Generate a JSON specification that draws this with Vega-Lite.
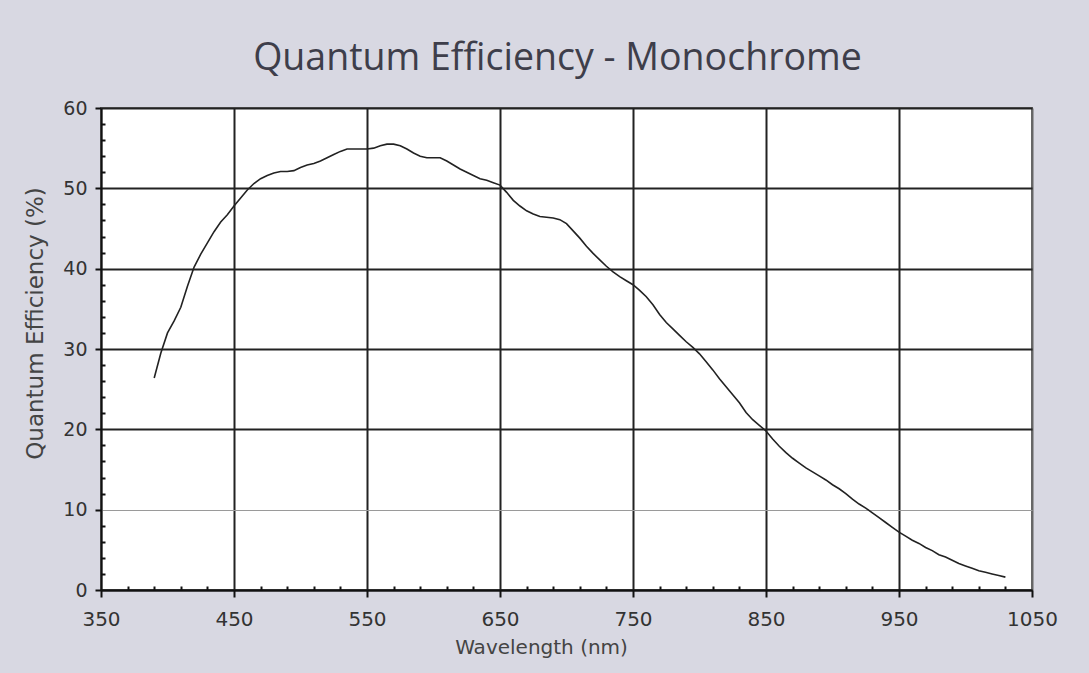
{
  "$schema": "https://vega.github.io/schema/vega-lite/v6.json",
  "width": 931,
  "height": 482,
  "autosize": {"type": "none"},
  "padding": {"left": 101, "top": 108, "right": 57, "bottom": 83},
  "background": "#d8d8e2",
  "title": {
    "text": "Quantum Efficiency - Monochrome",
    "anchor": "middle",
    "dx": -9,
    "offset": -8,
    "baseline": "alphabetic",
    "font": "Open Sans",
    "fontSize": 37.5,
    "fontWeight": "normal",
    "color": "#3e3e4a"
  },
  "data": {
    "values": [
      {"wl": 390, "qe": 26.4}, {"wl": 395, "qe": 29.5}, {"wl": 400, "qe": 32.0}, {"wl": 405, "qe": 33.5},
      {"wl": 410, "qe": 35.2}, {"wl": 415, "qe": 37.8}, {"wl": 420, "qe": 40.2}, {"wl": 425, "qe": 41.8},
      {"wl": 430, "qe": 43.2}, {"wl": 435, "qe": 44.6}, {"wl": 440, "qe": 45.8}, {"wl": 445, "qe": 46.7},
      {"wl": 450, "qe": 47.8}, {"wl": 455, "qe": 48.8}, {"wl": 460, "qe": 49.8}, {"wl": 465, "qe": 50.6},
      {"wl": 470, "qe": 51.2}, {"wl": 475, "qe": 51.6}, {"wl": 480, "qe": 51.9}, {"wl": 485, "qe": 52.1},
      {"wl": 490, "qe": 52.1}, {"wl": 495, "qe": 52.2}, {"wl": 500, "qe": 52.6}, {"wl": 505, "qe": 52.9},
      {"wl": 510, "qe": 53.1}, {"wl": 515, "qe": 53.4}, {"wl": 520, "qe": 53.8}, {"wl": 525, "qe": 54.2},
      {"wl": 530, "qe": 54.6}, {"wl": 535, "qe": 54.9}, {"wl": 540, "qe": 54.9}, {"wl": 545, "qe": 54.9},
      {"wl": 550, "qe": 54.9}, {"wl": 555, "qe": 55.0}, {"wl": 560, "qe": 55.3}, {"wl": 565, "qe": 55.5},
      {"wl": 570, "qe": 55.5}, {"wl": 575, "qe": 55.3}, {"wl": 580, "qe": 54.9}, {"wl": 585, "qe": 54.4},
      {"wl": 590, "qe": 54.0}, {"wl": 595, "qe": 53.8}, {"wl": 600, "qe": 53.8}, {"wl": 605, "qe": 53.8},
      {"wl": 610, "qe": 53.4}, {"wl": 615, "qe": 52.9}, {"wl": 620, "qe": 52.4}, {"wl": 625, "qe": 52.0},
      {"wl": 630, "qe": 51.6}, {"wl": 635, "qe": 51.2}, {"wl": 640, "qe": 51.0}, {"wl": 645, "qe": 50.7},
      {"wl": 650, "qe": 50.4}, {"wl": 655, "qe": 49.5}, {"wl": 660, "qe": 48.5}, {"wl": 665, "qe": 47.8},
      {"wl": 670, "qe": 47.2}, {"wl": 675, "qe": 46.8}, {"wl": 680, "qe": 46.5}, {"wl": 685, "qe": 46.4},
      {"wl": 690, "qe": 46.3}, {"wl": 695, "qe": 46.1}, {"wl": 700, "qe": 45.6}, {"wl": 705, "qe": 44.7},
      {"wl": 710, "qe": 43.8}, {"wl": 715, "qe": 42.8}, {"wl": 720, "qe": 41.9}, {"wl": 725, "qe": 41.1},
      {"wl": 730, "qe": 40.3}, {"wl": 735, "qe": 39.6}, {"wl": 740, "qe": 39.0}, {"wl": 745, "qe": 38.5},
      {"wl": 750, "qe": 38.0}, {"wl": 755, "qe": 37.3}, {"wl": 760, "qe": 36.5}, {"wl": 765, "qe": 35.5},
      {"wl": 770, "qe": 34.3}, {"wl": 775, "qe": 33.3}, {"wl": 780, "qe": 32.5}, {"wl": 785, "qe": 31.7},
      {"wl": 790, "qe": 30.9}, {"wl": 795, "qe": 30.2}, {"wl": 800, "qe": 29.4}, {"wl": 805, "qe": 28.4},
      {"wl": 810, "qe": 27.4}, {"wl": 815, "qe": 26.3}, {"wl": 820, "qe": 25.3}, {"wl": 825, "qe": 24.3},
      {"wl": 830, "qe": 23.3}, {"wl": 835, "qe": 22.1}, {"wl": 840, "qe": 21.2}, {"wl": 845, "qe": 20.5},
      {"wl": 850, "qe": 19.8}, {"wl": 855, "qe": 18.8}, {"wl": 860, "qe": 17.9}, {"wl": 865, "qe": 17.1},
      {"wl": 870, "qe": 16.4}, {"wl": 875, "qe": 15.8}, {"wl": 880, "qe": 15.2}, {"wl": 885, "qe": 14.7},
      {"wl": 890, "qe": 14.2}, {"wl": 895, "qe": 13.7}, {"wl": 900, "qe": 13.1}, {"wl": 905, "qe": 12.6},
      {"wl": 910, "qe": 12.0}, {"wl": 915, "qe": 11.3}, {"wl": 920, "qe": 10.7}, {"wl": 925, "qe": 10.2},
      {"wl": 930, "qe": 9.6}, {"wl": 935, "qe": 9.0}, {"wl": 940, "qe": 8.4}, {"wl": 945, "qe": 7.8},
      {"wl": 950, "qe": 7.2}, {"wl": 955, "qe": 6.7}, {"wl": 960, "qe": 6.2}, {"wl": 965, "qe": 5.8},
      {"wl": 970, "qe": 5.3}, {"wl": 975, "qe": 4.9}, {"wl": 980, "qe": 4.4}, {"wl": 985, "qe": 4.1},
      {"wl": 990, "qe": 3.7}, {"wl": 995, "qe": 3.3}, {"wl": 1000, "qe": 3.0}, {"wl": 1005, "qe": 2.7},
      {"wl": 1010, "qe": 2.4}, {"wl": 1015, "qe": 2.2}, {"wl": 1020, "qe": 2.0}, {"wl": 1025, "qe": 1.8},
      {"wl": 1030, "qe": 1.6}
    ]
  },
  "layer": [
    {
      "mark": {"type": "line", "color": "#222222", "strokeWidth": 1.6},
      "encoding": {
        "x": {
          "field": "wl", "type": "quantitative",
          "scale": {"domain": [350, 1050], "nice": false, "zero": false},
          "axis": {
            "orient": "bottom",
            "values": [350, 450, 550, 650, 750, 850, 950, 1050],
            "format": "d",
            "labelFlush": false,
            "title": "Wavelength (nm)",
            "titleX": 440, "titleY": 57,
            "titleBaseline": "middle", "titleAlign": "center",
            "titleFont": "DejaVu Sans", "titleFontSize": 20, "titleFontWeight": "normal", "titleColor": "#444444",
            "labelFont": "DejaVu Sans", "labelFontSize": 20, "labelColor": "#333333",
            "labelPadding": 12,
            "domainColor": "#111111", "domainWidth": 2,
            "tickColor": "#111111", "tickWidth": 2, "tickSize": 7,
            "grid": true,
            "gridColor": {"condition": {"test": "datum.value == 350 || datum.value == 1050", "value": "#666666"}, "value": "#222222"},
            "gridWidth": 2,
            "zindex": 0
          }
        },
        "y": {
          "field": "qe", "type": "quantitative",
          "scale": {"domain": [0, 60], "nice": false},
          "axis": {
            "orient": "left",
            "values": [0, 10, 20, 30, 40, 50, 60],
            "title": "Quantum Efficiency (%)",
            "titleX": -66, "titleY": 215,
            "titleAngle": -90,
            "titleBaseline": "middle", "titleAlign": "center",
            "titleFont": "DejaVu Sans", "titleFontSize": 23, "titleFontWeight": "normal", "titleColor": "#444444",
            "labelFont": "DejaVu Sans", "labelFontSize": 19, "labelColor": "#333333",
            "labelPadding": 8,
            "domainColor": "#111111", "domainWidth": 2,
            "tickColor": "#111111", "tickWidth": 2, "tickSize": 6,
            "grid": true,
            "gridColor": {"condition": {"test": "datum.value == 10", "value": "#9a9a9a"}, "value": "#222222"},
            "gridWidth": {"condition": {"test": "datum.value == 10", "value": 1}, "value": 2},
            "zindex": 0
          }
        }
      }
    },
    {
      "mark": {"type": "point", "opacity": 0},
      "encoding": {
        "x": {
          "field": "wl", "type": "quantitative",
          "axis": {
            "orient": "bottom",
            "values": [370, 390, 410, 430, 470, 490, 510, 530, 570, 590, 610, 630, 670, 690, 710, 730, 770, 790, 810, 830, 870, 890, 910, 930, 970, 990, 1010, 1030],
            "title": null, "labels": false, "domain": false, "grid": false,
            "tickColor": "#111111", "tickWidth": 2, "tickSize": -4,
            "zindex": 1
          }
        },
        "y": {
          "field": "qe", "type": "quantitative",
          "axis": {
            "orient": "left",
            "values": [2, 4, 6, 8, 12, 14, 16, 18, 22, 24, 26, 28, 32, 34, 36, 38, 42, 44, 46, 48, 52, 54, 56, 58],
            "title": null, "labels": false, "domain": false, "grid": false,
            "tickColor": "#111111", "tickWidth": 2, "tickSize": -4,
            "zindex": 1
          }
        }
      }
    }
  ],
  "resolve": {"axis": {"x": "independent", "y": "independent"}},
  "config": {
    "view": {"stroke": "#666666", "strokeWidth": 2, "fill": "#ffffff"}
  }
}
